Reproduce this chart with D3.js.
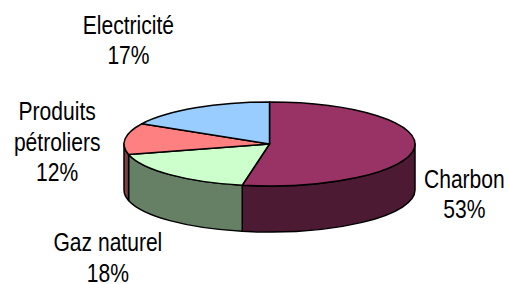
<!DOCTYPE html>
<html>
<head>
<meta charset="utf-8">
<script src="https://cdn.jsdelivr.net/npm/d3@7"></script>
<style>
  html, body { margin: 0; padding: 0; background: #fff; }
  svg { display: block; }
  text { font-family: "Liberation Sans", Arial, sans-serif; font-size: 26px; fill: #000; }
</style>
</head>
<body>
<svg id="chart" width="509" height="284"></svg>
<script>
// data
var categories = ["Charbon", "Gaz naturel", "Produits pétroliers", "Electricité"];
var values = [53, 18, 12, 17];
var labelLines = [["Charbon"], ["Gaz naturel"], ["Produits", "pétroliers"], ["Electricité"]];

// styles
var topColors = ["#993366", "#CCFFCC", "#FF8080", "#99CCFF"];
var sideColors = ["#4D1A33", "#668066", "#804040", "#4D6680"];

var svg = d3.select("#chart");
var cx = 269.5, cy = 144, rx = 145.5, ry = 42, depth = 46;

var pie = d3.pie().sort(null).value(function(d) { return d; });
var arcs = pie(values);

function pt(a, dy) {
    return [cx + rx * Math.sin(a), cy - ry * Math.cos(a) + (dy || 0)];
}

// side walls (front half only: angles between PI/2 and 3PI/2)
arcs.forEach(function(d, i) {
    var a0 = Math.max(d.startAngle, Math.PI / 2),
        a1 = Math.min(d.endAngle, 3 * Math.PI / 2);
    if (a1 <= a0) return;
    var p0 = pt(a0), p1 = pt(a1), q1 = pt(a1, depth), q0 = pt(a0, depth);
    var large = (a1 - a0) > Math.PI ? 1 : 0;
    var path = "M" + p0 + "A" + rx + "," + ry + " 0 " + large + " 1 " + p1 +
        "L" + q1 + "A" + rx + "," + ry + " 0 " + large + " 0 " + q0 + "Z";
    svg.append("path")
        .attr("d", path)
        .attr("fill", sideColors[i])
        .attr("stroke", "#000")
        .attr("stroke-width", 1.5)
        .attr("stroke-linejoin", "round");
});

// top faces
arcs.forEach(function(d, i) {
    var p0 = pt(d.startAngle), p1 = pt(d.endAngle);
    var large = (d.endAngle - d.startAngle) > Math.PI ? 1 : 0;
    var path = "M" + [cx, cy] + "L" + p0 + "A" + rx + "," + ry + " 0 " + large + " 1 " + p1 + "Z";
    svg.append("path")
        .attr("d", path)
        .attr("fill", topColors[i])
        .attr("stroke", "#000")
        .attr("stroke-width", 1.5)
        .attr("stroke-linejoin", "round");
});

// labels: anchored at the edge point of each slice's mid angle
var labelShift = [[50, 46], [-62, 83], [-68, 3], [-67, -68]];
var lineH = 30.5;
arcs.forEach(function(d, i) {
    var mid = (d.startAngle + d.endAngle) / 2;
    var e = pt(mid);
    var lines = labelLines[i].concat([Math.round(values[i]) + "%"]);
    var x = e[0] + labelShift[i][0],
        y = e[1] + labelShift[i][1] - (lines.length - 1) * lineH / 2 + 9;
    var g = svg.append("g").attr("transform", "translate(" + x + "," + y + ") scale(0.81,1)");
    var t = g.append("text").attr("text-anchor", "middle");
    lines.forEach(function(s, k) {
        t.append("tspan").attr("x", 0).attr("dy", k === 0 ? 0 : lineH).text(s);
    });
});
</script>
</body>
</html>
